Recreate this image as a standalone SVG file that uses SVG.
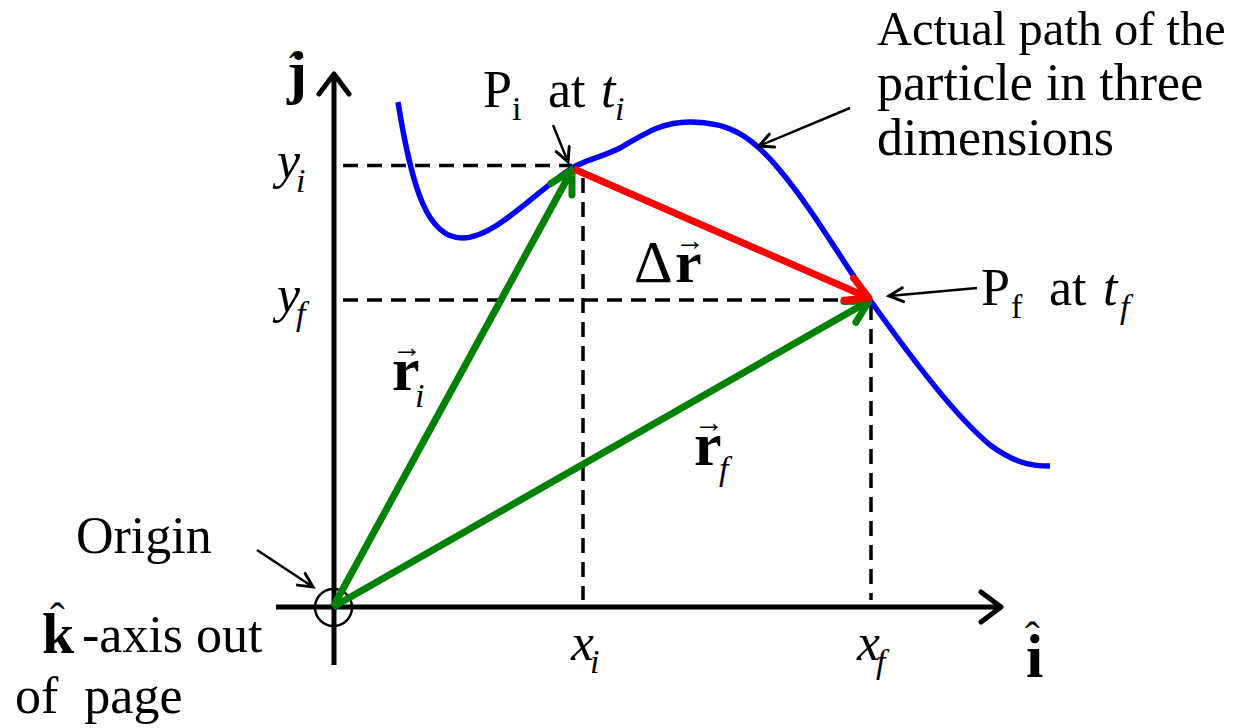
<svg xmlns="http://www.w3.org/2000/svg" width="1233" height="728" viewBox="0 0 1233 728">
<style>
text{font-family:"Liberation Serif","Times New Roman",serif;fill:#000}
.t{font-size:52px}
.it{font-style:italic}
.b{font-weight:bold}
.sub{font-size:34px}
.n{font-weight:normal}
.hat{font-size:44px;font-weight:normal;font-style:normal}
.vec{font-size:30px;font-weight:normal;font-style:normal}
.axis{stroke:#000;stroke-width:5;fill:none}
.dash{stroke:#000;stroke-width:3.5;stroke-dasharray:15 9;fill:none}
.green{stroke:#008000;stroke-width:7;fill:none}
.red{stroke:#ff0000;stroke-width:7;fill:none}
.path{stroke:#0000ff;stroke-width:5.5;fill:none}
.ptr{stroke:#000;stroke-width:2.5;fill:none}
</style>
<defs>
<marker id="ahAxis" markerUnits="userSpaceOnUse" markerWidth="60" markerHeight="60" refX="0" refY="0" orient="auto" overflow="visible">
<path d="M-20,-15 L0,0 L-20,15" stroke="#000" stroke-width="5" fill="none" stroke-linecap="round" stroke-linejoin="round"/>
</marker>
<marker id="ahGreen" markerUnits="userSpaceOnUse" markerWidth="60" markerHeight="60" refX="0" refY="0" orient="auto" overflow="visible">
<path d="M-22,-12 L0,0 L-22,12" stroke="#008000" stroke-width="7" fill="none" stroke-linecap="round" stroke-linejoin="round"/>
</marker>
<marker id="ahRed" markerUnits="userSpaceOnUse" markerWidth="60" markerHeight="60" refX="0" refY="0" orient="auto" overflow="visible">
<path d="M-22,-12 L0,0 L-22,12" stroke="#ff0000" stroke-width="7" fill="none" stroke-linecap="round" stroke-linejoin="round"/>
</marker>
<marker id="ahPtr" markerUnits="userSpaceOnUse" markerWidth="40" markerHeight="40" refX="0" refY="0" orient="auto" overflow="visible">
<path d="M-14,-7 L0,0 L-14,7" stroke="#000" stroke-width="3" fill="none" stroke-linecap="round" stroke-linejoin="miter"/>
</marker>
</defs>

<g id="axes">
<line class="axis" x1="334" y1="665" x2="334" y2="74" marker-end="url(#ahAxis)"/>
<line class="axis" x1="276" y1="607" x2="1001" y2="607" marker-end="url(#ahAxis)"/>
<circle cx="333.5" cy="607.5" r="18.5" fill="none" stroke="#000" stroke-width="2.5"/>
</g>

<g id="guides">
<line class="dash" x1="343" y1="165.5" x2="572" y2="165.5"/>
<line class="dash" x1="343" y1="300" x2="870" y2="300"/>
<line class="dash" x1="583" y1="178" x2="583" y2="600"/>
<line class="dash" x1="871" y1="305" x2="871" y2="600"/>
</g>

<g id="particle-path">
<path class="path" d="M398,102 C412,190 428,238 462,238 C495,238 535,192 572,168 C590,158 600,158 620,148 C650,130 665,122 690,122 C730,122 752,137 778,168 C812,208 840,258 870,300 C920,370 958,418 990,445 C1015,463 1030,466 1050,466"/>
</g>

<g id="connectors">
<line class="green" x1="333" y1="607" x2="572" y2="170" marker-end="url(#ahGreen)"/>
<line class="green" x1="333" y1="607" x2="869" y2="301" marker-end="url(#ahGreen)"/>
<line class="red" x1="574" y1="169" x2="869" y2="298" marker-end="url(#ahRed)"/>
<line class="ptr" x1="257" y1="550" x2="313" y2="587" marker-end="url(#ahPtr)"/>
<line class="ptr" x1="553" y1="125" x2="568" y2="162" marker-end="url(#ahPtr)"/>
<line class="ptr" x1="977" y1="288" x2="889" y2="296" marker-end="url(#ahPtr)"/>
<line class="ptr" x1="850" y1="108" x2="759" y2="146" marker-end="url(#ahPtr)"/>
</g>

<g id="j-axis-label">
<text class="b" font-size="60"><tspan x="287" y="92">j</tspan><tspan class="hat" x="289" y="82">ˆ</tspan></text>
</g>

<g id="i-axis-label">
<text class="b" font-size="62"><tspan x="1026" y="677">i</tspan><tspan class="hat" x="1025" y="652">ˆ</tspan></text>
</g>

<g id="Pi-label">
<text class="t"><tspan x="483" y="107">P</tspan><tspan class="sub" x="512" y="120">i</tspan><tspan x="548" y="107">at</tspan><tspan class="it" x="601" y="107">t</tspan><tspan class="sub it" x="615" y="120">i</tspan></text>
</g>

<g id="Pf-label">
<text class="t"><tspan x="981" y="305">P</tspan><tspan class="sub" x="1011" y="318">f</tspan><tspan x="1049" y="305">at</tspan><tspan class="it" x="1103" y="305">t</tspan><tspan class="sub it" x="1120" y="318">f</tspan></text>
</g>

<g id="path-label">
<text x="877" y="45" font-size="48.5">Actual path of the</text>
<text class="t" x="877" y="100">particle in three</text>
<text class="t" x="877" y="155">dimensions</text>
</g>

<g id="yi-label">
<text class="t it"><tspan x="277" y="178">y</tspan><tspan class="sub" x="296" y="192">i</tspan></text>
</g>
<g id="yf-label">
<text class="t it"><tspan x="277" y="312">y</tspan><tspan class="sub" x="296" y="325">f</tspan></text>
</g>
<g id="xi-label">
<text class="t it"><tspan x="571" y="660">x</tspan><tspan class="sub" x="590" y="673">i</tspan></text>
</g>
<g id="xf-label">
<text class="t it"><tspan x="857" y="660">x</tspan><tspan class="sub" x="876" y="673">f</tspan></text>
</g>

<g id="delta-r-label">
<text font-size="60"><tspan x="634" y="282">Δ</tspan><tspan class="b" x="675" y="282">r</tspan><tspan class="vec" x="675" y="250">→</tspan></text>
</g>

<g id="ri-label">
<text class="b" font-size="62"><tspan x="392" y="390">r</tspan><tspan class="vec" x="392" y="357">→</tspan><tspan class="sub it n" x="415" y="407">i</tspan></text>
</g>

<g id="rf-label">
<text class="b" font-size="62"><tspan x="694" y="465">r</tspan><tspan class="vec" x="694" y="432">→</tspan><tspan class="sub it n" x="719" y="480">f</tspan></text>
</g>

<g id="origin-label">
<text class="t" x="76" y="553">Origin</text>
</g>

<g id="k-axis-label">
<text class="b" font-size="58"><tspan x="42" y="653">k</tspan><tspan class="hat" x="50" y="633">ˆ</tspan></text>
<text class="t" x="82" y="652">-axis out</text>
<text class="t" x="15" y="713" style="white-space:pre">of  page</text>
</g>
</svg>
